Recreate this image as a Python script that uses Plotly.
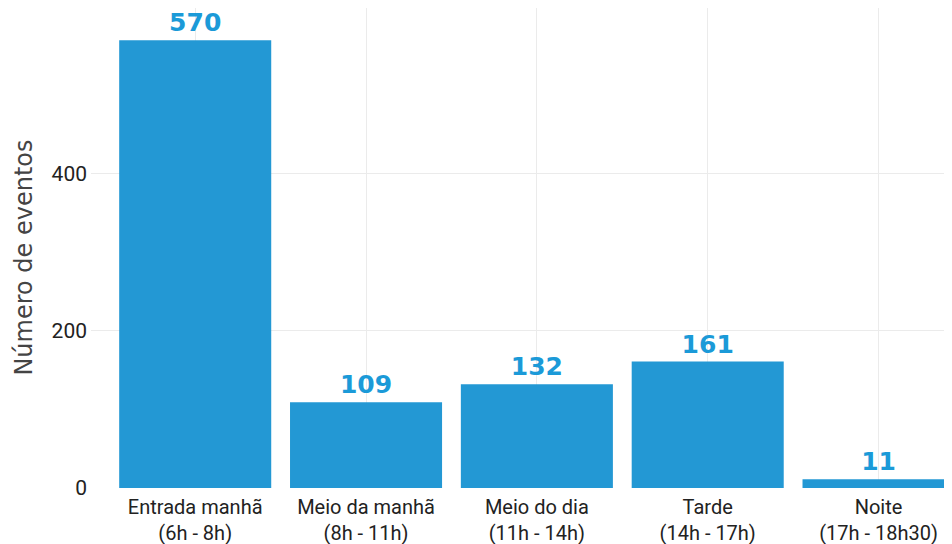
import plotly.graph_objects as go

categories = ["Entrada manhã<br>(6h - 8h)", "Meio da manhã<br>(8h - 11h)", "Meio do dia<br>(11h - 14h)",
              "Tarde<br>(14h - 17h)", "Noite<br>(17h - 18h30)"]
events = [570, 109, 132, 161, 11]
y_ticks = [0, 200, 400]
y_title = "Número de eventos"

fig = go.Figure(go.Bar(
    x=categories, y=events,
    marker=dict(color="#2398d4", line=dict(width=0)),
    text=[str(v) for v in events],
    textposition="outside",
    textfont=dict(family="DejaVu Sans", size=25, color="#1b9ad8", weight="bold"),
    cliponaxis=False,
))

fig.update_layout(
    width=944, height=536,
    margin=dict(l=83, r=0, t=0, b=56),
    plot_bgcolor="white", paper_bgcolor="white",
    bargap=0.11,
    showlegend=False,
    font=dict(family="Roboto", color="#222222"),
)
fig.update_xaxes(range=[-0.61, 4.43], showgrid=True, gridcolor="#ebebeb", gridwidth=1,
                 tickfont=dict(family="Roboto", size=20, color="#222222"), ticks="", zeroline=False,
                 ticklabelstandoff=5)
fig.update_yaxes(range=[0, 611], tickvals=y_ticks, showgrid=True, gridcolor="#ebebeb", gridwidth=1,
                 tickfont=dict(family="Roboto", size=21, color="#222222"), zeroline=False,
                 ticklabelstandoff=3)
fig.add_annotation(text=y_title, textangle=-90, xref="paper", yref="paper",
                   x=-0.0778, y=0.48, xanchor="center", yanchor="middle", showarrow=False,
                   font=dict(family="DejaVu Sans", size=24, color="#444444"))

fig.write_html("out.html")
